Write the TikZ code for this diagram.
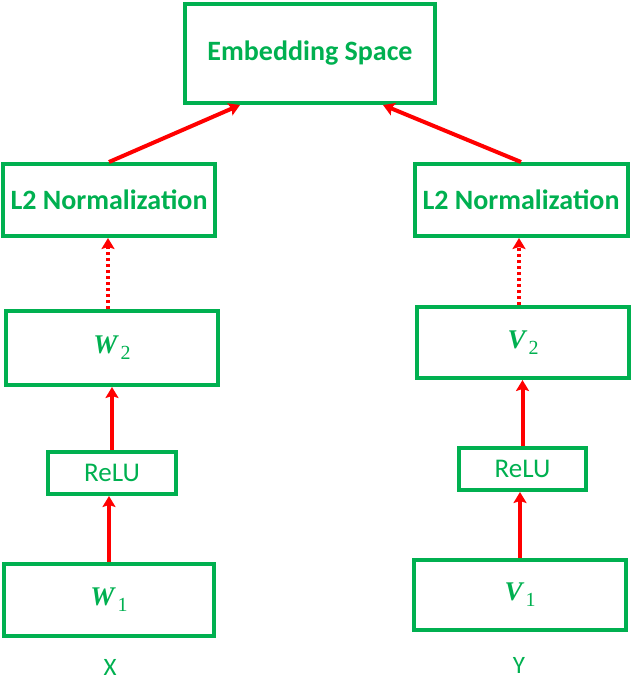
\documentclass[tikz,border=0pt]{standalone}
\usepackage{fontspec}
\setmainfont{Carlito}
\newfontfamily\libserif{Liberation Serif}
\usetikzlibrary{arrows.meta}
\definecolor{ogreen}{HTML}{00B050}
\definecolor{ored}{HTML}{FF0000}
\tikzset{
  box/.style={draw=ogreen, line width=4pt, text=ogreen, inner sep=0pt, rectangle},
  bigbox/.style={box, font=\fontsize{28}{32}\selectfont\bfseries},
  mathbox/.style={box, font=\libserif\fontsize{27}{31}\selectfont},
  relubox/.style={box, font=\fontsize{27}{31}\selectfont},
  lbl/.style={text=ogreen, font=\fontsize{25}{29}\selectfont, inner sep=0pt},
  arr/.style={draw=ored, line width=4pt, -{Stealth[length=11pt,width=13pt,inset=2pt]}},
  dotarr/.style={arr, dash pattern=on 3pt off 3pt},
}
\newcommand{\mvec}[2]{{\bfseries\itshape #1}\kern3pt\raisebox{-6pt}{\fontsize{20}{22}\selectfont #2}}
\begin{document}
\begin{tikzpicture}[x=1pt,y=-1pt]
\useasboundingbox (0,0) rectangle (632,680);
\node[bigbox, minimum width=250pt, minimum height=99pt] (emb) at (310,53.5) {Embedding Space};
\node[bigbox, minimum width=212pt, minimum height=72pt] (l2L) at (109,200) {L2 Normalization};
\node[bigbox, minimum width=213pt, minimum height=72pt] (l2R) at (521,200) {L2 Normalization};
\node[mathbox, minimum width=212pt, minimum height=74pt] (w2) at (112,348) {\mvec{W}{2}};
\node[mathbox, minimum width=212pt, minimum height=71pt] (v2) at (523,342.5) {\mvec{V}{2}};
\node[relubox, minimum width=128pt, minimum height=42pt] (reluL) at (112,473) {ReLU};
\node[relubox, minimum width=127pt, minimum height=42pt] (reluR) at (522.5,469) {ReLU};
\node[mathbox, minimum width=210pt, minimum height=72pt] (w1) at (109,600) {\mvec{W}{1}};
\node[mathbox, minimum width=212pt, minimum height=70pt] (v1) at (520,595) {\mvec{V}{1}};
\node[lbl] (x) at (110,667) {X};
\node[lbl] (y) at (519,665) {Y};
\draw[arr] (w1.north) -- (w1.north |- reluL.south);
\draw[arr] (reluL.north) -- (reluL.north |- w2.south);
\draw[dotarr] ([xshift=-4pt]w2.north) -- ([xshift=-4pt]w2.north |- l2L.south);
\draw[arr] (v1.north) -- (v1.north |- reluR.south);
\draw[arr] (reluR.north) -- (reluR.north |- v2.south);
\draw[dotarr] ([xshift=-4pt]v2.north) -- ([xshift=-4pt]v2.north |- l2R.south);
\draw[arr] (l2L.north) -- ([xshift=-70pt]emb.south);
\draw[arr] (l2R.north) -- ([xshift=73pt]emb.south);
\end{tikzpicture}
\end{document}
